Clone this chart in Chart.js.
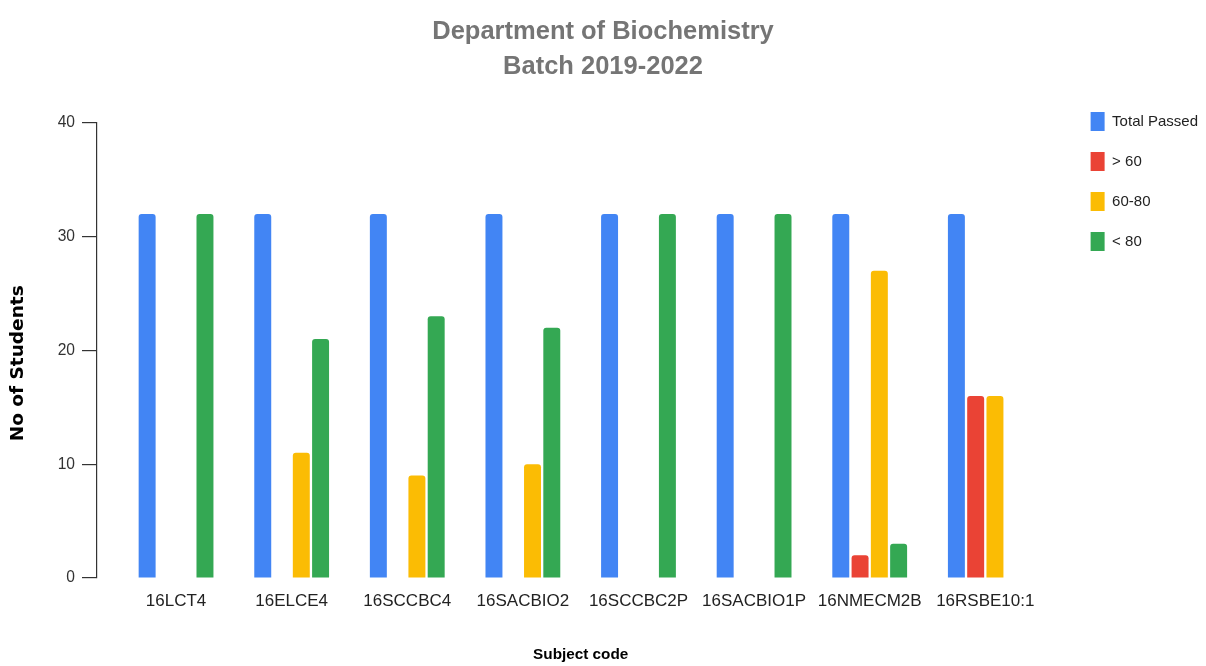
<!DOCTYPE html>
<html>
<head>
<meta charset="utf-8">
<script src="https://cdn.jsdelivr.net/npm/chart.js@4"></script>
<style>
    html, body { margin:0; padding:0; background:#fff; }
    #wrap { width:1206px; height:666px; }
</style>
</head>
<body>
<div id="wrap"><canvas id="resultChart"></canvas></div>
<script>
// Data
const subjects = ['16LCT4','16ELCE4','16SCCBC4','16SACBIO2','16SCCBC2P','16SACBIO1P','16NMECM2B','16RSBE10:1'];
const totalPassed = [32,32,32,32,32,32,32,32];
const above60 = [0,0,0,0,0,0,2,16];
const range6080 = [0,11,9,10,0,0,27,16];
const below80 = [32,21,23,22,32,32,3,0];
const yTicks = [0,10,20,30,40];

const sans = "'Liberation Sans', Arial, sans-serif";

// nudge the legend so it lines up with the top of the y axis
const legendShift = {
    id:'legendShift',
    afterLayout(chart){
        const lg = chart.legend;
        if(!lg) return;
        lg.top += 91;
        lg.bottom += 91;
        lg.left += 2;
        lg.right += 2;
    }
};

const ctx = document.getElementById('resultChart').getContext('2d');
new Chart(ctx, {
    type:'bar',
    data:{
        labels:subjects,
        datasets:[
            { label:'Total Passed', data:totalPassed, backgroundColor:'#4285F4' },
            { label:'> 60', data:above60, backgroundColor:'#EA4335' },
            { label:'60-80', data:range6080, backgroundColor:'#FBBC04' },
            { label:'< 80', data:below80, backgroundColor:'#34A853' }
        ]
    },
    options:{
        responsive:true,
        maintainAspectRatio:false,
        animation:false,
        layout:{ padding:0 },
        datasets:{
            bar:{ categoryPercentage:0.667, barPercentage:0.88, borderRadius:3, borderSkipped:'start' }
        },
        plugins:{
            title:{
                display:true,
                text:['Department of Biochemistry','Batch 2019-2022'],
                color:'#757575',
                font:{ family:sans, size:25.5, weight:'bold', lineHeight:1.37 },
                padding:{ top:14.5, bottom:38.5 }
            },
            legend:{
                position:'right',
                align:'start',
                labels:{
                    boxWidth:14,
                    boxHeight:19,
                    padding:21,
                    color:'#222',
                    font:{ family:sans, size:15 }
                }
            },
            tooltip:{ enabled:false }
        },
        scales:{
            x:{
                grid:{ display:false, drawTicks:false },
                border:{ display:false },
                ticks:{ color:'#222', padding:13, autoSkip:false, maxRotation:0, font:{ family:sans, size:17 } },
                title:{
                    display:true,
                    text:'Subject code',
                    color:'#000',
                    font:{ family:sans, size:15.3, weight:'bold' },
                    padding:{ top:0, bottom:2 }
                },
                afterFit(s){ s.height = 88; }
            },
            y:{
                position:'left',
                weight:1,
                min:0,
                max:40,
                afterBuildTicks(s){ s.ticks = yTicks.map(v => ({ value:v })); },
                grid:{ drawOnChartArea:false, drawTicks:true, tickLength:15, color:'#333', lineWidth:1.2 },
                border:{ display:true, color:'#333', width:1.2 },
                ticks:{ color:'#333', padding:7, font:{ family:sans, size:15.6 } },
                title:{
                    display:true,
                    text:'No of Students    ',
                    color:'#000',
                    font:{ family:"'DejaVu Sans', sans-serif", size:18.5, weight:'bold' },
                    padding:{ top:7, bottom:0 }
                },
                afterFit(s){ s.width = 97; }
            },
            gapL:{
                position:'left',
                weight:0,
                grid:{ display:false },
                border:{ display:false },
                ticks:{ display:false },
                afterFit(s){ s.width = 21.25; }
            },
            gapR:{
                position:'right',
                weight:0,
                grid:{ display:false },
                border:{ display:false },
                ticks:{ display:false },
                afterFit(s){ s.width = 24.5; }
            }
        }
    },
    plugins:[legendShift]
});
</script>
</body>
</html>
